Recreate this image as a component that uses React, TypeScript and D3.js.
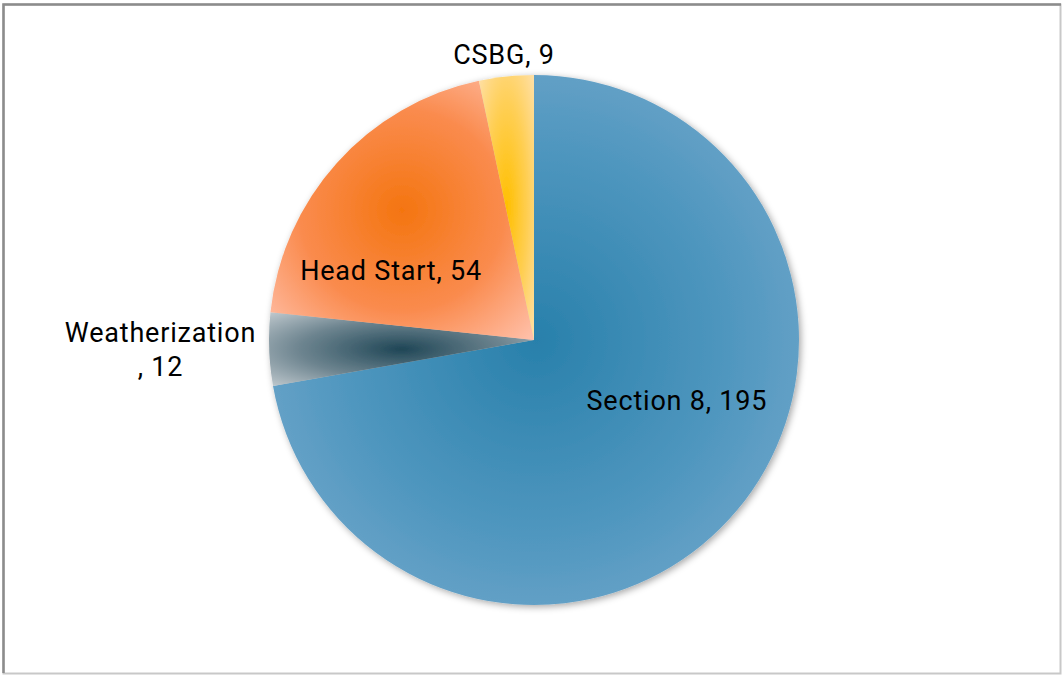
import * as React from "react";
import * as d3 from "d3";

const categories: string[] = ["Section 8", "Weatherization", "Head Start", "CSBG"];
const values: number[] = [195, 12, 54, 9];
const centerColors: string[] = ["#2880ab", "#1f4656", "#f47510", "#ffbf00"];
const midColors: string[] = ["#5298c0", "#6e8590", "#fa8b4e", "#ffcf55"];
const edgeColors: string[] = ["#80aed0", "#c0c9ce", "#ffc2ad", "#ffe0a8"];

// label anchors: angle (deg, clockwise from top) and radius as fraction of pie radius
const labelAngles: number[] = [112.8, 268.5, 296, 354];
const labelRadii: number[] = [0.585, 1.41, 0.6, 1.085];

const WIDTH = 1062;
const HEIGHT = 675;

export default function App(): JSX.Element {
  const ref = React.useRef<SVGSVGElement>(null);

  React.useEffect(() => {
    const svg = d3.select(ref.current);
    svg.selectAll("*").remove();

    const cx = 534;
    const cy = 340;
    const radius = 265;

    // frame
    svg.append("rect")
      .attr("x", 3.5).attr("y", 4.5)
      .attr("width", 1057).attr("height", 669)
      .attr("fill", "#ffffff")
      .attr("stroke", "#c8c8c8")
      .attr("stroke-width", 2);
    svg.append("path")
      .attr("d", "M3.5,673 L3.5,4.5 L1061,4.5")
      .attr("fill", "none")
      .attr("stroke", "#8c8c8c")
      .attr("stroke-width", 2.5);

    const defs = svg.append("defs");
    const shadow = defs.append("filter")
      .attr("id", "pieShadow")
      .attr("x", "-10%").attr("y", "-10%")
      .attr("width", "120%").attr("height", "120%");
    shadow.append("feDropShadow")
      .attr("dx", 2).attr("dy", 2)
      .attr("stdDeviation", 3.5)
      .attr("flood-color", "#000000")
      .attr("flood-opacity", 0.35);

    categories.forEach((c: string, i: number) => {
      const grad = defs.append("radialGradient")
        .attr("id", `grad${i}`)
        .attr("cx", "50%").attr("cy", "50%").attr("r", "70.7%");
      grad.append("stop").attr("offset", "0%").attr("stop-color", centerColors[i]);
      grad.append("stop").attr("offset", "55%").attr("stop-color", midColors[i]);
      grad.append("stop").attr("offset", "100%").attr("stop-color", edgeColors[i]);
    });

    const pie = d3.pie<number>().sort(null).value((d: number) => d);
    const arcs = pie(values);
    const arc = d3.arc<d3.PieArcDatum<number>>().innerRadius(0).outerRadius(radius);

    const g = svg.append("g").attr("transform", `translate(${cx}, ${cy})`);
    const slices = g.append("g").attr("filter", "url(#pieShadow)");
    slices.selectAll("path")
      .data(arcs)
      .enter()
      .append("path")
      .attr("d", (d) => arc(d) as string)
      .attr("fill", (d, i) => `url(#grad${i})`);

    // labels
    const labels = g.append("g")
      .attr("font-family", "Roboto, 'Liberation Sans', sans-serif")
      .attr("font-size", 27)
      .attr("letter-spacing", 0.8)
      .attr("fill", "#000000")
      .attr("text-anchor", "middle");

    categories.forEach((c: string, i: number) => {
      const a = (labelAngles[i] * Math.PI) / 180;
      const r = labelRadii[i] * radius;
      const x = r * Math.sin(a);
      const y = -r * Math.cos(a);
      const t = labels.append("text")
        .attr("x", x)
        .attr("y", y)
        .attr("dy", "0.35em");
      if (c === "Weatherization") {
        t.attr("dy", null);
        t.append("tspan").attr("x", x).attr("y", y - 17 + 9).text(c);
        t.append("tspan").attr("x", x).attr("y", y + 17 + 9).text(`, ${values[i]}`);
      } else {
        t.text(`${c}, ${values[i]}`);
      }
    });
  }, []);

  return (
    <div style={{ position: "absolute", left: 0, top: 0 }}>
      <svg ref={ref} width={WIDTH} height={HEIGHT} style={{ display: "block" }} />
    </div>
  );
}
